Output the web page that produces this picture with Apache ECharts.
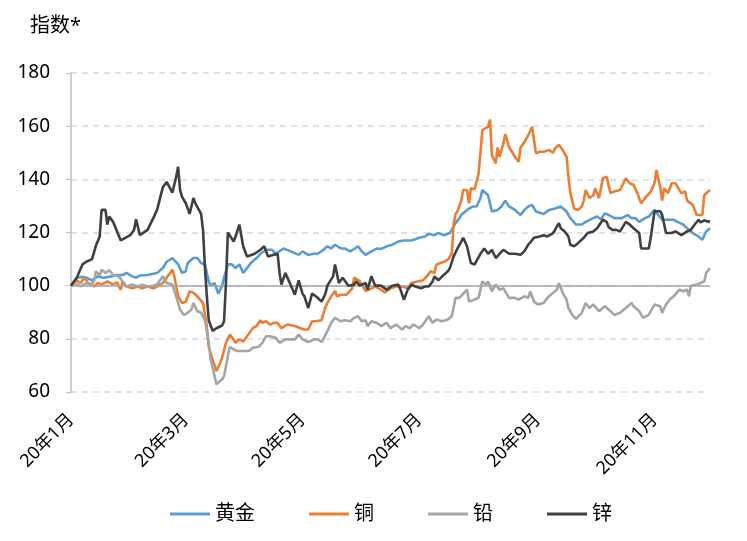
<!DOCTYPE html>
<html>
<head>
<meta charset="utf-8">
<script src="https://cdn.jsdelivr.net/npm/echarts@6/dist/echarts.min.js"></script>
<style>
html,body{margin:0;padding:0;background:#fff;}
#chart{width:747px;height:541px;}
</style>
</head>
<body>
<div id="chart"></div>
<script>
// x values: days since 2020-01-01
const seriesNames = ['黄金', '铜', '铅', '锌'];
const yTicks = [60, 80, 100, 120, 140, 160, 180];

const goldDay = [0,3,6,8,11,14,17,21,24,27,29,32,34,36,40,43,45,48,50,53,56,58,60,61,64,66,68,70,72,73,75,77,79,80,82,84,86,88,90,92,94,97,99,102,105,107,111,115,119,121,124,127,129,132,134,136,138,141,143,146,148,150,152,154,155,157,160,162,165,168,171,174,178,182,185,187,190,192,195,198,199,201,203,204,207,210,212,214,215,218,219,220,223,225,227,229,232,235,237,239,241,243,247,250,253,256,259,261,264,267,269,273,275,277,279,281,284,288,291,293,295,297,300,302,305,307,309,312,315,317,320,322,325,328,330,332,334];
const goldVal = [100,103,103.3,103,102,103.5,103,103.5,104,104,104.8,103.5,103,103.8,104,104.5,104.8,106.6,109,110.4,108,104.8,105.4,108.5,110.4,110.4,108.5,108,101.6,100,101,97,100,103,108,108,106.6,108,104.8,106.6,108.5,110.4,112,113.5,113.5,112,114,112.9,111.6,112.9,111.6,112,112,113.5,114.8,114,115.4,114,114,112.9,113.8,114.8,112.9,111.6,111,112.9,114,113.8,114.8,115.4,116.6,117,117,118,118.5,119.5,119,119.8,119,119.8,120.4,123.5,125.4,126.6,128.5,129.8,129.8,132.9,136,134,133.5,127.9,128.5,129.8,132,129.8,128.5,126.6,128.5,129.8,130.4,127.9,127,128.5,129,129.8,127.9,125.4,123,123,124,125.4,126,125,127.2,126.6,125.4,125.4,126.6,125.4,125.4,124,125.4,126,128.5,126.6,124.8,124.8,124.8,124,123,121.6,119.8,118.5,117.3,120.4,121.6];

const copperDay = [0,3,5,7,9,12,14,16,19,22,24,26,27,29,32,35,37,40,43,45,48,50,53,54,56,58,60,62,64,66,69,71,72,74,76,78,79,81,83,85,86,88,90,92,93,95,97,99,100,102,104,106,108,110,113,114,117,120,122,124,126,128,131,133,134,136,138,139,141,144,147,148,151,154,156,159,162,164,167,170,173,176,178,181,184,186,188,190,191,193,195,197,199,200,201,202,204,205,207,208,209,211,213,214,215,218,219,220,222,223,224,226,227,229,231,232,234,235,237,239,241,243,245,247,250,252,253,255,257,259,260,261,263,265,267,268,269,271,273,274,276,278,280,282,284,287,290,292,294,296,298,300,303,305,306,308,309,310,312,314,316,319,321,322,325,327,330,331,333,334];
const copperVal = [100,102,101,103,101,99.7,101,100.4,101.6,100.4,101.2,98.5,101.6,99.7,99,99.7,99,99.7,99,99.7,101,103,106,103.5,96,93.5,94,97.9,97.3,96,93.5,84.8,77,72.3,67.9,71,73,78.5,81.6,79.8,78.5,79.8,79,81,81.6,84,84.8,87,86,86.6,85.4,86,86,84,85.4,85.4,84.8,84,83.5,83.5,86.6,86.6,87,92,93.5,96,98,96,96.6,96.6,99,103,101.6,98,98.5,99.7,98.5,97.5,99,99.7,99.7,99,101,101.6,102,103.5,105.4,104.8,107.9,108.5,109,109.8,112,123,127,128,132,136,136,131,136.6,136.3,142,149.8,158.5,159.8,162.5,149,146,152,148.5,153.5,157,152,149.8,148.5,146.6,152,154,156.6,159.8,149.8,150.4,150.4,151,150,151.6,153,151,148.5,141,134.8,129,128.5,129.8,132,136,133,134,136.6,133,140.4,141,134.8,135.4,136,140.4,138.5,137.9,134.8,131,132.9,135.4,138.5,143.5,137,132,136.6,134.8,138.5,138.5,134.8,135.4,132,130.4,126.6,126.6,134,135.4,136];

const leadDay = [0,2,5,8,10,12,13,15,16,18,20,22,25,27,29,32,35,37,40,43,45,48,50,51,53,55,57,59,61,63,64,66,68,70,72,73,75,76,79,80,82,83,85,87,90,93,95,98,100,102,104,107,109,112,114,117,119,121,124,127,129,131,134,136,138,141,143,146,148,150,152,154,155,157,160,162,165,167,170,171,173,175,177,179,182,184,187,189,191,194,197,199,201,203,204,207,208,211,213,215,217,218,220,222,224,226,227,229,232,234,237,239,240,242,244,247,249,252,254,255,257,259,260,262,264,267,269,271,273,276,279,282,284,287,290,293,294,297,299,302,303,305,308,309,311,313,315,318,320,322,323,324,327,329,331,332,334];
const leadVal = [100,101,99.7,101,100.4,101.6,105.4,104,106,104.8,105.8,104,103.5,101.6,99.7,100.4,99.7,100.4,99.7,100,100.4,103.5,101,100.4,100.4,96,91,89,89.8,91,93.5,90.4,89.8,87,78.5,72.3,66,62.9,64.8,66,73.5,77,76,75.4,75.4,75.4,76.6,77,78.5,81,81,80.4,78.5,79.8,79.8,79.8,81.6,79.8,78.8,79.8,79.8,78.8,82.9,86,87.9,86.6,87,86.6,87.9,88.5,86.6,87,84.8,86.6,86,84.8,86,84,85.4,84.8,83.5,84.8,84,85.4,84,85.4,88.5,86,87.3,86.6,87.3,88.5,95.4,95.4,96,98.5,94,94.8,95.4,101.6,100.4,101.6,97.9,100.4,98.5,99,99.7,95.4,95.4,94.8,96,95.4,97.9,94,92.9,93.5,95.4,97.3,98.5,101,97.3,94.8,91.6,89,87.5,89.8,93.5,91.6,92.9,90.4,92.3,90.4,89,89.8,91.6,93.5,92.3,90.4,87.9,89,90.4,92.9,92.3,89.8,92.9,94.8,96,98.5,97.9,98.5,96,100,100.4,101,101.6,104.8,106.6];

const zincDay = [0,3,6,8,11,13,15,16,18,19,20,22,26,27,31,33,34,35,36,40,43,45,48,50,53,55,56,57,58,60,62,64,65,68,69,70,71,72,74,76,79,80,81,82,83,85,86,88,89,90,92,93,96,99,101,103,106,108,109,110,112,115,117,119,121,122,124,126,128,131,133,134,137,138,140,142,145,148,149,151,154,155,157,159,162,165,168,171,172,174,176,178,180,183,185,187,189,190,192,194,197,198,200,202,204,205,207,209,211,212,214,216,218,220,222,224,226,229,232,235,237,239,242,245,247,249,252,253,255,256,258,260,261,263,265,268,270,273,275,278,280,281,283,285,287,290,292,294,297,298,300,302,303,304,305,308,309,311,314,316,319,322,324,326,328,329,331,334];
const zincVal = [100,103,108,109,110,115,118.5,128.5,128.5,123,126,124,117,117.5,119,121,125,125,119,121,125.4,128.5,137,139,135,141,144.7,136,133.5,131,127,133,131,127,121,107,96,87,83,84,85,86.6,101,120,120.4,116.6,118.5,123,123.5,114.8,111,111,112,113.5,114.8,111,111.6,112,104.8,100.4,104.8,100,96.6,102,97,96,91.6,97,96,94,97,100,103.5,108,101,103,100,100.4,101.6,100,101,98.5,103.5,100,100,98.5,100,100.4,99,94.7,98.5,100.4,99.7,99,99.7,99.7,101.6,103.5,102,103.5,105.4,106.6,111,114,116.6,118,114.8,108.5,108,108,112,114,112,113.5,110.4,112,113.5,112,112,111.6,113,115.4,118,118.5,119,118.5,119.8,121,123.5,121.6,120.4,118.5,115.4,114.8,116,118,119.8,120.4,121.6,124.8,124,122,121,121,120.4,124,123,121.6,119.8,114,114,114,118,118.5,128,128,126.6,119.8,119.8,120.4,119,120.4,121,123,124.8,123.8,124.5,124];

const colors = ['#5B9BD5', '#ED7D31', '#A5A5A5', '#404040'];
const FONT = '"Noto Sans", "Noto Sans CJK SC", sans-serif';

// calendar day categories 2020-01-01 .. 2020-11-30
const start = Date.UTC(2020, 0, 1);
const categories = [];
for (let i = 0; i <= 334; i++) {
  const d = new Date(start + i * 86400000);
  categories.push({y: d.getUTCFullYear(), m: d.getUTCMonth() + 1, d: d.getUTCDate()});
}
const catNames = categories.map(c => c.y + '-' + c.m + '-' + c.d);

function pairs(days, vals) { return days.map((d, i) => [d, vals[i]]); }
const allDays = [goldDay, copperDay, leadDay, zincDay];
const allVals = [goldVal, copperVal, leadVal, zincVal];

const chart = echarts.init(document.getElementById('chart'), null, {renderer: 'canvas'});
const series = seriesNames.map((name, k) => ({
  name: name,
  type: 'line',
  data: pairs(allDays[k], allVals[k]),
  showSymbol: false,
  symbol: 'none',
  lineStyle: {width: 2.6, color: colors[k]},
  itemStyle: {color: colors[k]},
  z: 3 + k,
  animation: false
}));
series.unshift({
  type: 'line', data: [], silent: true, z: 2,
  markLine: {
    silent: true, symbol: 'none', label: {show: false},
    lineStyle: {type: 'solid', color: '#A6A6A6', width: 1.5},
    data: [{yAxis: 100}],
    animation: false
  }
});

chart.setOption({
  animation: false,
  backgroundColor: '#fff',
  title: {
    text: '指数*', left: 25, top: 11,
    textStyle: {fontFamily: FONT, fontSize: 20, fontWeight: 'normal', color: '#000'}
  },
  grid: {left: 71, right: 37, top: 73, bottom: 149},
  legend: {
    data: seriesNames.map((n, k) => ({name: n, icon: 'rect', itemStyle: {color: colors[k]}})),
    left: 165, top: 499,
    itemWidth: 40, itemHeight: 3, itemGap: 54,
    textStyle: {fontFamily: FONT, fontSize: 20, color: '#000', padding: [0, 0, 0, 0]}
  },
  xAxis: {
    type: 'category',
    data: catNames,
    boundaryGap: false,
    axisLine: {show: false},
    axisTick: {show: false},
    splitLine: {show: false},
    axisLabel: {
      rotate: 45,
      margin: 25,
      fontFamily: FONT, fontSize: 18, color: '#000',
      interval: function (index) {
        const c = categories[index];
        return c.d === 1 && c.m % 2 === 1;
      },
      formatter: function (v, index) {
        const c = categories[index];
        return String(c.y).slice(2) + '年' + c.m + '月';
      }
    }
  },
  yAxis: {
    type: 'value',
    min: yTicks[0], max: yTicks[yTicks.length - 1], interval: 20,
    axisLine: {show: true, lineStyle: {color: '#BFBFBF', width: 1.5}},
    axisTick: {show: true, length: 5, lineStyle: {color: '#BFBFBF', width: 1}},
    splitLine: {show: true, lineStyle: {type: [6, 5], color: '#D9D9D9', width: 1.5}},
    axisLabel: {margin: 21, fontFamily: FONT, fontSize: 19, color: '#000'}
  },
  series: series
});
</script>
</body>
</html>
